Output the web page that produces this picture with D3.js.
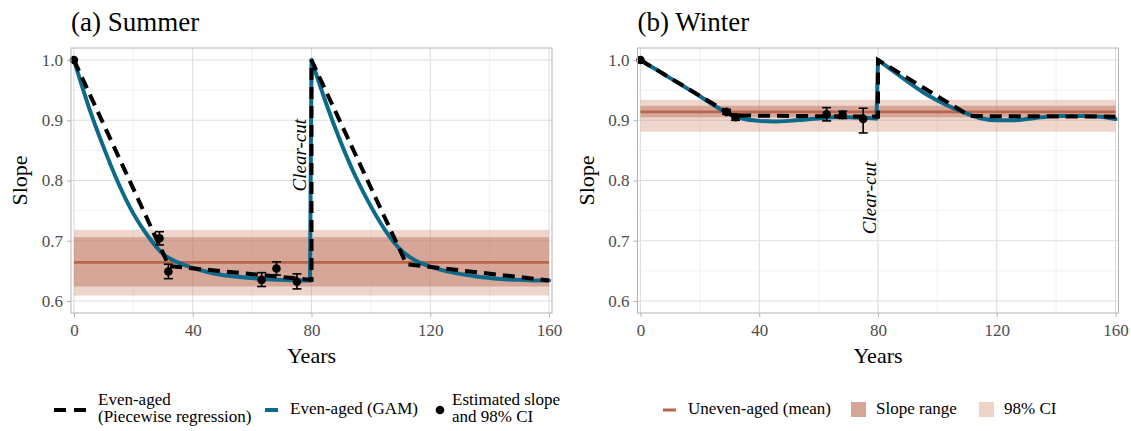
<!DOCTYPE html>
<html>
<head>
<meta charset="utf-8">
<script src="https://cdn.jsdelivr.net/npm/d3@7"></script>
<style>
  body { margin: 0; background: #fff; }
  svg, svg text { font-family: "Liberation Serif", "Times New Roman", serif; }
</style>
</head>
<body>
<svg id="chart" width="1131" height="431"></svg>
<script>
// ---- data ----
const panelTitles = ["(a) Summer", "(b) Winter"];
const xTicks = [0, 40, 80, 120, 160];
const yTicks = [0.6, 0.7, 0.8, 0.9, 1.0];

// GAM fit (blue)
const gamYears = [0, 2.5, 5, 10, 15, 20, 25, 30, 35, 40, 45, 50, 55, 60, 65, 70, 75, 79.5,
                  80, 82.5, 85, 90, 95, 100, 105, 110, 115, 120, 125, 130, 135, 140, 145, 150, 155, 160];
const gamSlopeA = [1.0, 0.960, 0.922, 0.855, 0.795, 0.745, 0.707, 0.678, 0.664, 0.655, 0.648, 0.643, 0.640, 0.638, 0.636, 0.635, 0.634, 0.634,
                   1.0, 0.963, 0.927, 0.862, 0.805, 0.757, 0.716, 0.685, 0.667, 0.657, 0.650, 0.645, 0.641, 0.638, 0.636, 0.635, 0.634, 0.634];
const gamSlopeB = [1.0, 0.992, 0.985, 0.970, 0.955, 0.940, 0.924, 0.910, 0.902, 0.899, 0.898, 0.899, 0.901, 0.903, 0.905, 0.905, 0.904, 0.903,
                   1.0, 0.991, 0.982, 0.964, 0.947, 0.933, 0.921, 0.911, 0.903, 0.900, 0.900, 0.902, 0.905, 0.907, 0.907, 0.907, 0.906, 0.902];

// piecewise regression (dashed)
const pieceYearsA = [0, 32, 80, 80, 112, 160];
const pieceSlopeA = [1.0, 0.658, 0.635, 1.0, 0.661, 0.634];
const pieceYearsB = [0, 31, 80, 80, 111, 160];
const pieceSlopeB = [1.0, 0.908, 0.906, 1.0, 0.907, 0.906];

// estimated slopes with 98% CI
const pointYearsA = [0, 28.8, 31.8, 63.2, 68.2, 75.1];
const pointSlopeA = [1.0, 0.704, 0.649, 0.635, 0.654, 0.632];
const pointLowA   = [1.0, 0.693, 0.637, 0.624, 0.643, 0.620];
const pointHighA  = [1.0, 0.715, 0.661, 0.647, 0.665, 0.645];
const pointYearsB = [0, 29, 32, 62.7, 68.1, 75];
const pointSlopeB = [1.0, 0.914, 0.905, 0.910, 0.909, 0.902];
const pointLowB   = [1.0, 0.910, 0.900, 0.899, 0.903, 0.879];
const pointHighB  = [1.0, 0.918, 0.910, 0.921, 0.915, 0.920];

// uneven-aged reference (summer, winter)
const unevenMean = [0.664, 0.914];
const rangeLow   = [0.624, 0.905];
const rangeHigh  = [0.706, 0.924];
const ciLow      = [0.609, 0.881];
const ciHigh     = [0.718, 0.934];

// "Clear-cut" label anchor
const clearYear  = [78.3, 79.3];
const clearSlope = [0.842, 0.771];

const legendLabels = [["Even-aged", "(Piecewise regression)"], ["Even-aged (GAM)"], ["Estimated slope", "and 98% CI"],
                      ["Uneven-aged (mean)"], ["Slope range"], ["98% CI"]];

// ---- layout ----
const blue = "#0e6a8b", brown = "#b9644b";
const serif = "'Liberation Serif', 'Times New Roman', serif";
const svg = d3.select("#chart");
const panelLeft = [71, 637.5], panelW = 481, panelTop = 48, panelBottom = 313;

const panels = [
  { gam: gamSlopeA, pY: pieceYearsA, pS: pieceSlopeA, ptY: pointYearsA, ptS: pointSlopeA, lo: pointLowA, hi: pointHighA },
  { gam: gamSlopeB, pY: pieceYearsB, pS: pieceSlopeB, ptY: pointYearsB, ptS: pointSlopeB, lo: pointLowB, hi: pointHighB }
];

const y = d3.scaleLinear([0.58, 1.02], [panelBottom, panelTop]);

panels.forEach((p, i) => {
  const x = d3.scaleLinear([-1, 161], [panelLeft[i], panelLeft[i] + panelW]);
  const g = svg.append("g");

  // grid
  const minorX = [20, 60, 100, 140], minorY = [0.65, 0.75, 0.85, 0.95];
  g.append("g").selectAll("line").data(minorX).join("line")
    .attr("x1", d => x(d)).attr("x2", d => x(d)).attr("y1", panelTop).attr("y2", panelBottom)
    .attr("stroke", "#ebebeb").attr("stroke-width", 0.7);
  g.append("g").selectAll("line").data(minorY).join("line")
    .attr("x1", x.range()[0]).attr("x2", x.range()[1]).attr("y1", d => y(d)).attr("y2", d => y(d))
    .attr("stroke", "#ebebeb").attr("stroke-width", 0.7);
  g.append("g").selectAll("line").data(xTicks).join("line")
    .attr("x1", d => x(d)).attr("x2", d => x(d)).attr("y1", panelTop).attr("y2", panelBottom)
    .attr("stroke", "#dedede").attr("stroke-width", 1.1);
  g.append("g").selectAll("line").data(yTicks).join("line")
    .attr("x1", x.range()[0]).attr("x2", x.range()[1]).attr("y1", d => y(d)).attr("y2", d => y(d))
    .attr("stroke", "#dedede").attr("stroke-width", 1.1);

  // uneven-aged bands + mean
  g.append("rect").attr("x", x(0)).attr("width", x(160) - x(0))
    .attr("y", y(ciHigh[i])).attr("height", y(ciLow[i]) - y(ciHigh[i]))
    .attr("fill", "#c8765a").attr("fill-opacity", 0.3);
  g.append("rect").attr("x", x(0)).attr("width", x(160) - x(0))
    .attr("y", y(rangeHigh[i])).attr("height", y(rangeLow[i]) - y(rangeHigh[i]))
    .attr("fill", "#be7864").attr("fill-opacity", 0.5);
  g.append("line").attr("x1", x(0)).attr("x2", x(160))
    .attr("y1", y(unevenMean[i])).attr("y2", y(unevenMean[i]))
    .attr("stroke", brown).attr("stroke-width", 2.6);

  // GAM curve, split at the clear-cut
  const gam = gamYears.map((yr, k) => [yr, p.gam[k]]);
  const c1 = gam.filter(d => d[0] < 80), c2 = gam.filter(d => d[0] >= 80);
  const smooth = d3.line().x(d => x(d[0])).y(d => y(d[1])).curve(d3.curveMonotoneX);
  const straight = d3.line().x(d => x(d[0])).y(d => y(d[1]));
  [smooth(c1), straight([c1[c1.length - 1], c2[0]]), smooth(c2)].forEach(dStr =>
    g.append("path").attr("d", dStr).attr("fill", "none").attr("stroke", blue)
      .attr("stroke-width", 4).attr("stroke-linecap", "round").attr("stroke-linejoin", "round"));

  // piecewise regression
  g.append("path").attr("d", straight(p.pY.map((yr, k) => [yr, p.pS[k]])))
    .attr("fill", "none").attr("stroke", "#000").attr("stroke-width", 4)
    .attr("stroke-dasharray", "12,7");

  // estimated points with CI
  const pts = p.ptY.map((yr, k) => ({ yr, s: p.ptS[k], lo: p.lo[k], hi: p.hi[k] }));
  const eb = g.append("g").attr("stroke", "#000").attr("stroke-width", 1.6);
  pts.filter(d => d.hi > d.lo).forEach(d => {
    eb.append("line").attr("x1", x(d.yr)).attr("x2", x(d.yr)).attr("y1", y(d.lo)).attr("y2", y(d.hi));
    eb.append("line").attr("x1", x(d.yr) - 4.5).attr("x2", x(d.yr) + 4.5).attr("y1", y(d.lo)).attr("y2", y(d.lo));
    eb.append("line").attr("x1", x(d.yr) - 4.5).attr("x2", x(d.yr) + 4.5).attr("y1", y(d.hi)).attr("y2", y(d.hi));
  });
  g.append("g").selectAll("circle").data(pts).join("circle")
    .attr("cx", d => x(d.yr)).attr("cy", d => y(d.s)).attr("r", 4.3).attr("fill", "#000");

  // clear-cut label
  g.append("text")
    .attr("transform", `translate(${x(clearYear[i])},${y(clearSlope[i])}) rotate(-90)`)
    .attr("text-anchor", "middle").attr("font-style", "italic").attr("font-size", 19)
    .text("Clear-cut");

  // panel border
  g.append("rect").attr("x", x.range()[0]).attr("y", panelTop)
    .attr("width", panelW).attr("height", panelBottom - panelTop)
    .attr("fill", "none").attr("stroke", "#b3b3b3").attr("stroke-width", 1);

  // axes
  const ax = g.append("g").attr("transform", `translate(0,${panelBottom})`)
    .call(d3.axisBottom(x).tickValues(xTicks).tickSize(4).tickPadding(7).tickFormat(d3.format("d")));
  const ay = g.append("g").attr("transform", `translate(${x.range()[0]},0)`)
    .call(d3.axisLeft(y).tickValues(yTicks).tickSize(4).tickPadding(4).tickFormat(d3.format(".1f")));
  [ax, ay].forEach(a => {
    a.attr("font-family", null).attr("font-size", null);
    a.select(".domain").remove();
    a.selectAll(".tick line").attr("stroke", "#b3b3b3");
    a.selectAll(".tick text").attr("fill", "#4d4d4d").style("font-size", "17px")
      .style("font-family", serif);
  });

  // titles
  g.append("text").attr("x", x.range()[0]).attr("y", 31).attr("font-size", 27).text(panelTitles[i]);
  g.append("text").attr("x", (x.range()[0] + x.range()[1]) / 2).attr("y", 363)
    .attr("text-anchor", "middle").attr("font-size", 22).text("Years");
  g.append("text").attr("transform", `translate(${x.range()[0] - 44},${(panelTop + panelBottom) / 2}) rotate(-90)`)
    .attr("text-anchor", "middle").attr("font-size", 22).text("Slope");
});

// ---- legend ----
const leg = svg.append("g").attr("font-size", 17);
const keyY = 410;
const keyX = [54, 265, 440, 663, 851, 979];
const textX = [98, 290, 452, 688, 876, 1004];

leg.append("line").attr("x1", keyX[0]).attr("x2", keyX[0] + 32).attr("y1", keyY).attr("y2", keyY)
  .attr("stroke", "#000").attr("stroke-width", 4).attr("stroke-dasharray", "12,8");
leg.append("line").attr("x1", keyX[1]).attr("x2", keyX[1] + 13).attr("y1", keyY).attr("y2", keyY)
  .attr("stroke", blue).attr("stroke-width", 4);
leg.append("circle").attr("cx", keyX[2]).attr("cy", keyY).attr("r", 4.3).attr("fill", "#000");
leg.append("line").attr("x1", keyX[3]).attr("x2", keyX[3] + 13).attr("y1", keyY).attr("y2", keyY)
  .attr("stroke", brown).attr("stroke-width", 3);
leg.append("rect").attr("x", keyX[4]).attr("y", keyY - 8).attr("width", 15).attr("height", 15)
  .attr("fill", "#d5a597");
leg.append("rect").attr("x", keyX[5]).attr("y", keyY - 8).attr("width", 15).attr("height", 15)
  .attr("fill", "#eed3c9");

legendLabels.forEach((lines, k) => {
  const t = leg.append("text").attr("x", textX[k]);
  const y0 = lines.length === 1 ? keyY + 4 : keyY - 5;
  lines.forEach((s, j) => t.append("tspan").attr("x", textX[k]).attr("y", y0 + j * 17).text(s));
});
</script>
</body>
</html>
